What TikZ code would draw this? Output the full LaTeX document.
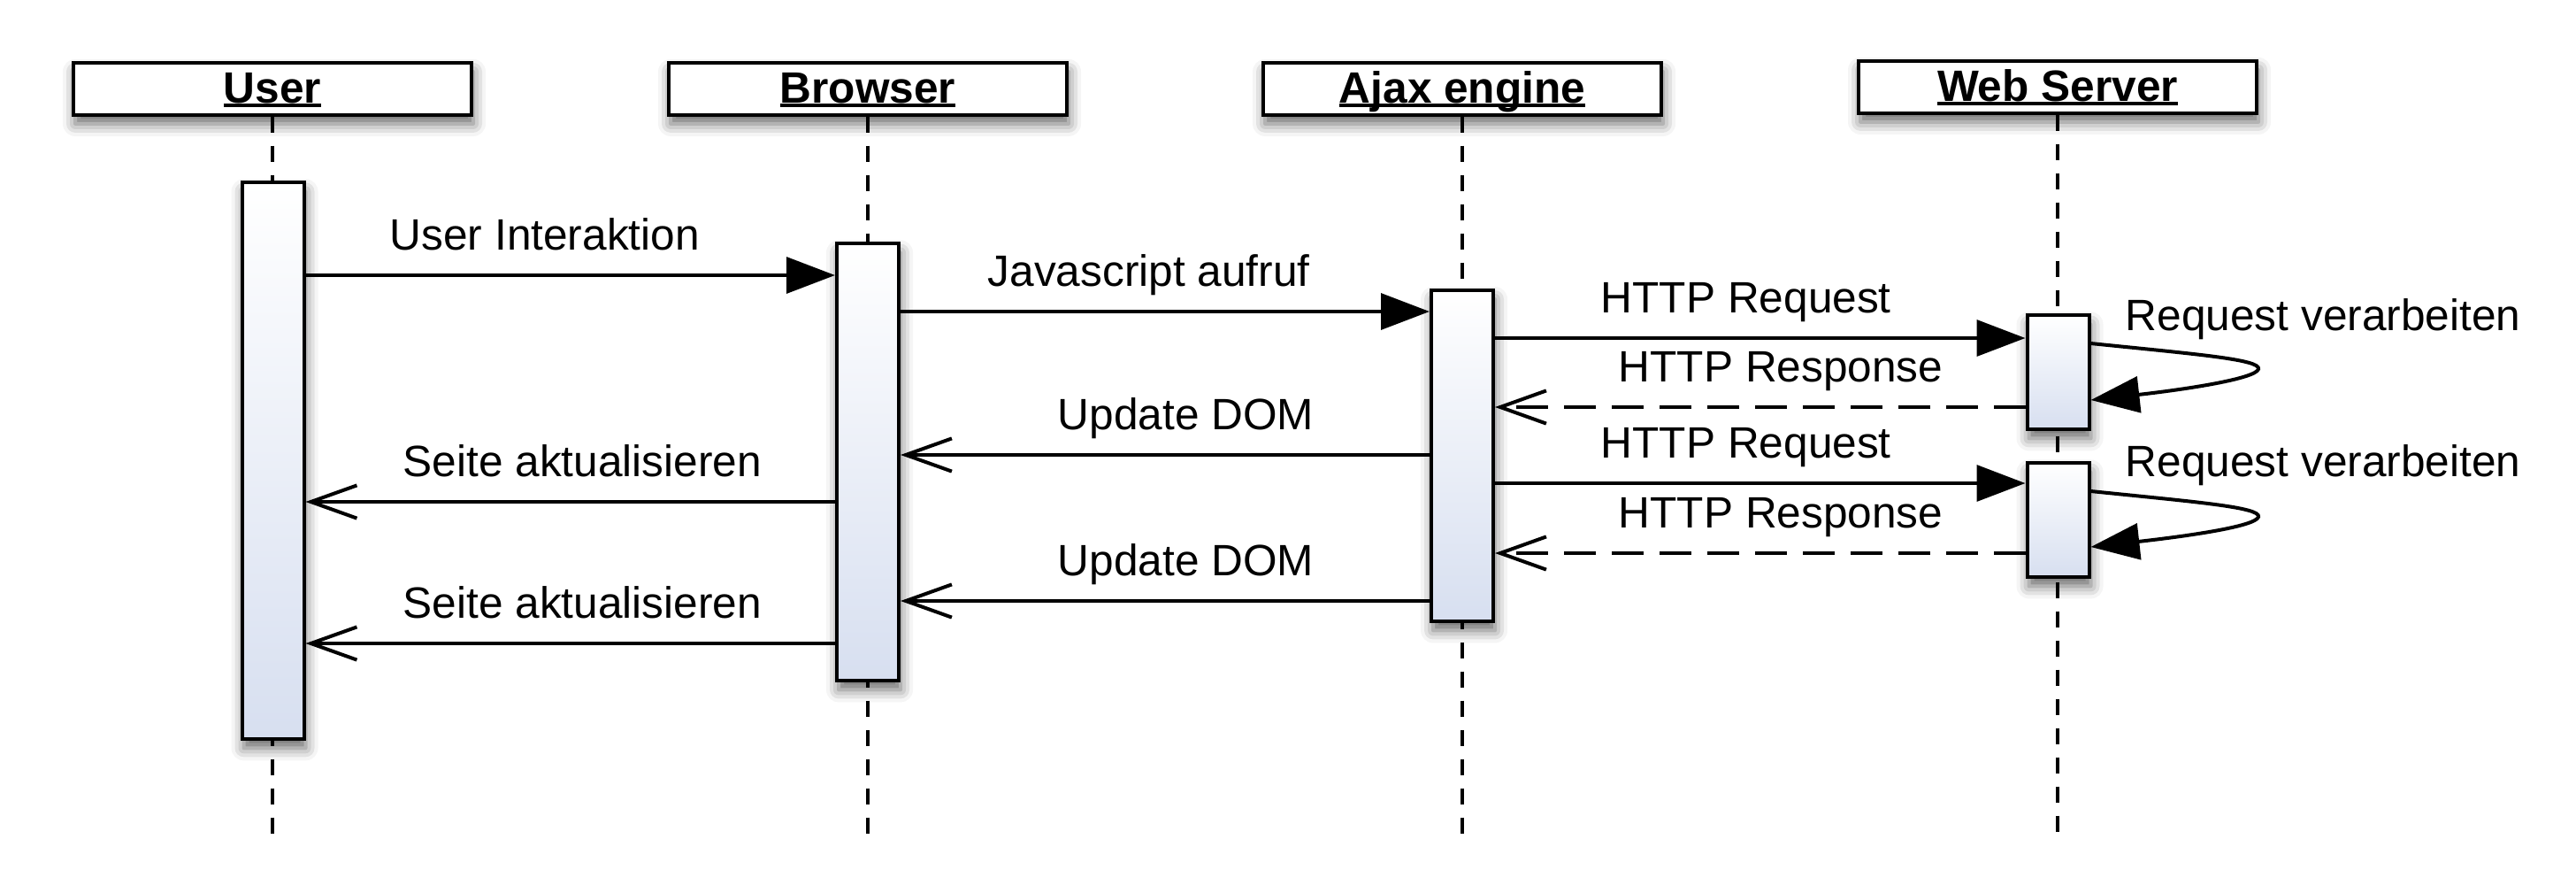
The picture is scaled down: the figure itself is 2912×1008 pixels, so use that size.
\documentclass[tikz,border=0pt]{standalone}
\usepackage{fontspec}
\setmainfont{Liberation Sans}
\usetikzlibrary{arrows.meta,shadows.blur}

\definecolor{barblue}{RGB}{215,223,240}
\newcommand\diafont{\fontsize{12.4}{14.5}\selectfont}
\newcommand\headul[1]{\setbox0\hbox{#1}\rlap{\rule[-1.25pt]{\wd0}{1pt}}\box0}

\tikzset{
  softshadow/.style={blur shadow={shadow xshift=0.5pt, shadow yshift=-2.6pt, shadow blur radius=3.5pt, shadow opacity=60}},
  head/.style={draw, line width=1pt, fill=white, softshadow, minimum width=112.5pt, minimum height=14.75pt,
    inner sep=0pt, text height=9pt, text depth=1pt, font=\diafont\bfseries},
  actbar/.style={draw, line width=1pt, top color=white, bottom color=barblue, softshadow,
    minimum width=17.5pt, inner sep=0pt},
  life/.style={line width=1pt, dash pattern=on 4.5pt off 3.75pt},
  call/.style={line width=1pt, -{Triangle[length=13.75pt,width=10.2pt]}},
  reply/.style={line width=1pt, -{Straight Barb[length=13pt,width=9.3pt]}},
  back/.style={reply, dash pattern=on 9pt off 4.5pt},
  lbl/.style={anchor=base west, inner sep=0pt, font=\diafont}
}

\begin{document}
\begin{tikzpicture}[x=0.25pt, y=-0.25pt]
	%%%%% START %%%%%
	\useasboundingbox (0,0) rectangle (2912,1008);
	
	\node[head] (user) at (308,100) {\headul{User}};
	\node[head] (browser) at (981,100) {\headul{Browser}};
	\node[head] (ajax) at (1653,100) {\headul{Ajax engine}};
	\node[head] (server) at (2326,98) {\headul{Web Server}};
	
	\coordinate (bottom) at (0,948);
	\foreach \n in {user,browser,ajax,server}
		\draw[life] (\n.south) -- (\n.south |- bottom);
	
	\node[actbar, minimum height=157.25pt] (ubar) at (308.5,520.4) {};
	\node[actbar, minimum height=123.5pt] (bbar) at (981,522) {};
	\node[actbar, minimum height=93.6pt] (abar) at (1653,514.8) {};
	\node[actbar, minimum height=32.25pt] (wbar1) at (2326.5,420.5) {};
	\node[actbar, minimum height=32.25pt] (wbar2) at (2326.5,587.5) {};
	
	% message levels
	\coordinate (m1) at (0,311);
	\coordinate (m2) at (0,352);
	\coordinate (m3) at (0,382);
	\coordinate (m4) at (0,460);
	\coordinate (m5) at (0,514);
	\coordinate (m6) at (0,567);
	\coordinate (m7) at (0,546);
	\coordinate (m8) at (0,625);
	\coordinate (m9) at (0,679);
	\coordinate (m10) at (0,727);
	
	\draw[call] (ubar.east |- m1) -- (bbar.west |- m1);
	\node[lbl] (l1) at (440,282) {User Interaktion};
	\draw[call] (bbar.east |- m2) -- (abar.west |- m2);
	\node[lbl] (l2) at (1116,323) {Javascript aufruf};
	
	\draw[call] (abar.east |- m3) -- (wbar1.west |- m3);
	\node[lbl] (l3) at (1809,353) {HTTP Request};
	\draw[call] (wbar1.east |- 0,388) .. controls (2480,400) and (2556,406) .. (2553,417)
		.. controls (2550,428) and (2470,440) .. (wbar1.east |- 0,452);
	\node[lbl] (l4) at (2402,373) {Request verarbeiten};
	\draw[back] (wbar1.west |- m4) -- (abar.east |- m4);
	\node[lbl] (l5) at (1829,431) {HTTP Response};
	
	\draw[reply] (abar.west |- m5) -- (bbar.east |- m5);
	\node[lbl] (l6) at (1195,485) {Update DOM};
	\draw[reply] (bbar.west |- m6) -- (ubar.east |- m6);
	\node[lbl] (l7) at (455,538) {Seite aktualisieren};
	
	\draw[call] (abar.east |- m7) -- (wbar2.west |- m7);
	\node[lbl] (l8) at (1809,517) {HTTP Request};
	\draw[call] (wbar2.east |- 0,555) .. controls (2480,567) and (2556,573) .. (2553,584)
		.. controls (2550,595) and (2470,606) .. (wbar2.east |- 0,618);
	\node[lbl] (l9) at (2402,538) {Request verarbeiten};
	\draw[back] (wbar2.west |- m8) -- (abar.east |- m8);
	\node[lbl] (l10) at (1829,596) {HTTP Response};
	
	\draw[reply] (abar.west |- m9) -- (bbar.east |- m9);
	\node[lbl] (l11) at (1195,650) {Update DOM};
	\draw[reply] (bbar.west |- m10) -- (ubar.east |- m10);
	\node[lbl] (l12) at (455,698) {Seite aktualisieren};
	
	%%%%% END %%%%%
\end{tikzpicture}
\end{document}
